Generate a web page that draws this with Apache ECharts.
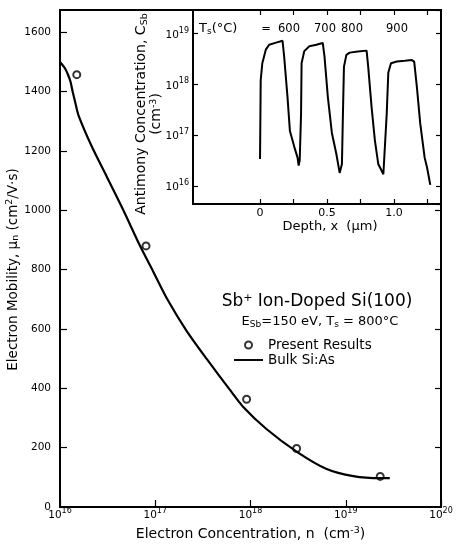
<!DOCTYPE html>
<html><head><meta charset="utf-8">
<script src="https://cdn.jsdelivr.net/npm/echarts@6/dist/echarts.min.js"></script>
<style>html,body{margin:0;padding:0;background:#fff}#c{width:457px;height:548px}</style>
</head><body><div id="c"></div>
<script>
// ---- Main plot: electron mobility vs electron concentration ----
const presentN  = [1.5e16, 8.0e16, 9.1e17, 3.05e18, 2.3e19];
const presentMu = [1457, 880, 363, 197, 103];

const bulkN  = [1.0e16, 1.13e16, 1.22e16, 1.29e16, 1.36e16, 1.44e16, 1.56e16, 2.17e16, 3.1e16, 4.6e16,
                6.9e16, 9.5e16, 1.33e17, 2.14e17, 3.47e17, 6.0e17, 8.3e17, 1.48e18, 3.1e18, 6.3e18,
                1.2e19, 2.3e19, 2.9e19];
const bulkMu = [1500, 1478, 1455, 1433, 1399, 1366, 1321, 1213, 1113, 1002,
                881, 794, 702, 593, 499, 397, 339, 262, 185, 128,
                104, 97, 97];

const mobilityRightTicks = [200, 400, 600, 800, 1000];

// ---- Inset: Sb depth profile ----
const depthUm = [0.0, 0.005, 0.017, 0.043, 0.068, 0.12, 0.168, 0.18, 0.205, 0.223,
                 0.256, 0.28, 0.288, 0.296, 0.306, 0.31, 0.33, 0.368, 0.42, 0.468,
                 0.481, 0.506, 0.536, 0.569, 0.594, 0.611, 0.619, 0.626, 0.644, 0.669,
                 0.73, 0.795, 0.807, 0.832, 0.857, 0.882, 0.92, 0.932, 0.945, 0.957,
                 0.977, 1.02, 1.08, 1.133, 1.15, 1.17, 1.195, 1.228, 1.246, 1.27];
const sbConc  = [3.4e16, 1.2e18, 2.6e18, 4.8e18, 6.0e18, 6.6e18, 7.2e18, 3.5e18, 5.6e17, 1.2e17,
                 5.8e16, 3.6e16, 2.5e16, 3.2e16, 2.6e17, 2.6e18, 4.5e18, 5.6e18, 6.0e18, 6.5e18,
                 3.5e18, 5.6e17, 1.1e17, 4.3e16, 1.8e16, 2.7e16, 3.1e17, 2.2e18, 3.8e18, 4.2e18,
                 4.4e18, 4.6e18, 2.2e18, 3.6e17, 7.8e16, 2.7e16, 1.7e16, 1.8e16, 2.6e17, 1.7e18,
                 2.6e18, 2.8e18, 2.9e18, 3.0e18, 2.8e18, 8.9e17, 1.7e17, 3.6e16, 2.3e16, 1.05e16];
const depthTicks  = [0, 0.25, 0.5, 0.75, 1.0, 1.25];
const depthLabels = [0, 0.5, 1.0];
const tempLabels  = ['600', '700', '800', '900'];

const F = 'DejaVu Sans';
const K = '#000';
const expRich = {
  b: {fontFamily: F, fontSize: 10.5, lineHeight: 11, padding: [3, 0, 0, 0], color: K},
  s: {fontFamily: F, fontSize: 8, lineHeight: 8, padding: [0, 0, 6, 0], color: K}
};
const expFmt = v => '{b|10}{s|' + Math.round(Math.log10(v)) + '}';
const nameRich = {
  sub: {fontFamily: F, fontSize: 9.5, padding: [6, 0, 0, 0], color: K},
  sup: {fontFamily: F, fontSize: 9.5, padding: [0, 0, 6, 0], color: K}
};
const tick = (len, extra) => Object.assign({inside: true, length: len, lineStyle: {color: K, width: 1.2}}, extra || {});
const noLine = {show: false, onZero: false};
const numText = (x, t) => ({type: 'text', x: x, y: 29, silent: true,
  style: {text: t, align: 'center', verticalAlign: 'middle', fontFamily: F, fontSize: 11.5, fill: K}});

const chart = echarts.init(document.getElementById('c'));
const option = {
  animation: false,
  backgroundColor: '#fff',
  textStyle: {fontFamily: F, color: K},
  grid: [
    {left: 60, top: 10, width: 381, height: 497, show: true, borderColor: K, borderWidth: 2,
     backgroundColor: 'transparent', outerBoundsMode: 'none', containLabel: false},
    {left: 193, top: 10, width: 248, height: 194, show: true, borderColor: K, borderWidth: 2,
     backgroundColor: '#fff', outerBoundsMode: 'none', containLabel: false}
  ],
  xAxis: [
    {gridIndex: 0, type: 'log', logBase: 10, min: 1e16, max: 1e20,
     axisLine: noLine, splitLine: {show: false}, axisTick: tick(7),
     axisLabel: {formatter: expFmt, rich: expRich, margin: 1, color: K},
     name: 'Electron Concentration, n  (cm{sup|-3})', nameLocation: 'middle', nameGap: 19, nameMoveOverlap: false,
     nameTextStyle: {fontFamily: F, fontSize: 14, color: K, rich: nameRich}},
    {gridIndex: 1, type: 'value', min: -0.5, max: 1.35,
     axisLine: noLine, splitLine: {show: false}, axisTick: tick(5, {customValues: depthTicks}),
     axisLabel: {customValues: depthLabels, formatter: v => v === 0 ? '0' : v.toFixed(1),
                 fontFamily: F, fontSize: 11, color: K, margin: 4},
     name: 'Depth, x  (μm)', nameLocation: 'middle', nameGap: 16, nameMoveOverlap: false,
     nameTextStyle: {fontFamily: F, fontSize: 13, color: K, padding: [0, 0, 0, 26]}},
    {gridIndex: 1, type: 'value', position: 'top', min: -0.5, max: 1.35,
     axisLine: noLine, splitLine: {show: false}, axisTick: tick(5, {customValues: depthTicks}),
     axisLabel: {show: false}}
  ],
  yAxis: [
    {gridIndex: 0, type: 'value', min: 0, max: 1675, interval: 200,
     axisLine: noLine, splitLine: {show: false}, axisTick: tick(7),
     axisLabel: {showMaxLabel: false, formatter: v => String(v), fontFamily: F, fontSize: 10.5, color: K, margin: 9},
     name: 'Electron Mobility, μ{sub|n} (cm{sup|2}/V·s)', nameLocation: 'middle', nameGap: 39, nameMoveOverlap: false,
     nameTextStyle: {fontFamily: F, fontSize: 13.5, color: K, rich: nameRich, padding: [0, 22, 0, 0]}},
    {gridIndex: 0, type: 'value', position: 'right', min: 0, max: 1675,
     axisLine: noLine, splitLine: {show: false}, axisTick: tick(6, {customValues: mobilityRightTicks}),
     axisLabel: {show: false}},
    {gridIndex: 1, type: 'log', logBase: 10, min: 4.4e15, max: 2.9e19,
     axisLine: noLine, splitLine: {show: false}, axisTick: tick(5),
     axisLabel: {formatter: expFmt, rich: expRich, margin: 4, color: K, showMinLabel: false, showMaxLabel: false},
     name: 'Antimony Concentration, C{sub|Sb}\n(cm{sup|-3})', nameLocation: 'middle', nameGap: 29, nameMoveOverlap: false,
     nameTextStyle: {fontFamily: F, fontSize: 14, color: K, lineHeight: 15, rich: nameRich, padding: [0, 14, 0, 0]}},
    {gridIndex: 1, type: 'log', logBase: 10, position: 'right', min: 4.4e15, max: 2.9e19,
     axisLine: noLine, splitLine: {show: false}, axisTick: tick(5),
     axisLabel: {show: false}}
  ],
  legend: {
    data: [
      {name: 'Present Results', icon: 'emptyCircle'},
      {name: 'Bulk Si:As', icon: 'path://M0,0 L30,0 L30,2 L0,2 Z'}
    ],
    orient: 'vertical', left: 234, top: 338, padding: 0,
    itemWidth: 29, itemHeight: 7, itemGap: 1, selectedMode: false,
    textStyle: {fontFamily: F, fontSize: 13.5, color: K}
  },
  graphic: [
    {type: 'text', x: 317, y: 302, silent: true,
     style: {text: '{a|Sb}{p|+}{a| Ion-Doped Si(100)}', align: 'center', verticalAlign: 'middle',
             rich: {a: {fontFamily: F, fontSize: 17, fill: K}, p: {fontFamily: F, fontSize: 11, fill: K, padding: [0, 0, 8, 0]}}}},
    {type: 'text', x: 320, y: 322, silent: true,
     style: {text: '{a|E}{b|Sb}{a|=150 eV, T}{b|s}{a| = 800°C}', align: 'center', verticalAlign: 'middle',
             rich: {a: {fontFamily: F, fontSize: 13, fill: K}, b: {fontFamily: F, fontSize: 9, fill: K, padding: [6, 0, 0, 0]}}}},
    {type: 'text', x: 199, y: 29, silent: true,
     style: {text: '{a|T}{b|s}{a|(°C)}', align: 'left', verticalAlign: 'middle',
             rich: {a: {fontFamily: F, fontSize: 13, fill: K}, b: {fontFamily: F, fontSize: 9, fill: K, padding: [6, 0, 0, 0]}}}},
    numText(266, '='),
    numText(289, tempLabels[0]),
    numText(325, tempLabels[1]),
    numText(352, tempLabels[2]),
    numText(397, tempLabels[3])
  ],
  series: [
    {name: 'Bulk Si:As', type: 'line', xAxisIndex: 0, yAxisIndex: 0,
     data: bulkN.map((n, i) => [n, bulkMu[i]]), symbol: 'none', showSymbol: false, smooth: 0.25,
     lineStyle: {color: K, width: 2.2}, itemStyle: {color: K}},
    {name: 'Present Results', type: 'scatter', xAxisIndex: 0, yAxisIndex: 0,
     data: presentN.map((n, i) => [n, presentMu[i]]), symbol: 'emptyCircle', symbolSize: 7,
     itemStyle: {color: K, borderColor: K, borderWidth: 1.3}},
    {name: 'profile', type: 'line', xAxisIndex: 1, yAxisIndex: 2,
     data: depthUm.map((d, i) => [d, sbConc[i]]), symbol: 'none', showSymbol: false,
     lineStyle: {color: K, width: 2}}
  ]
};
chart.setOption(option);
</script>
</body></html>
